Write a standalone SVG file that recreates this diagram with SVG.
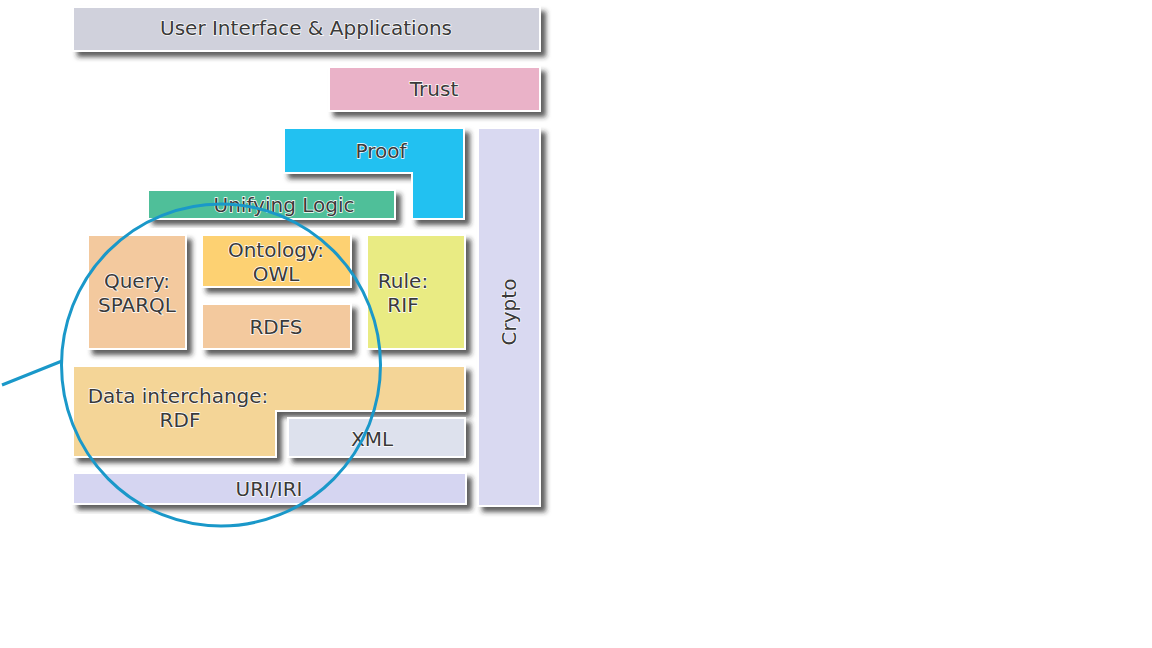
<svg xmlns="http://www.w3.org/2000/svg" width="1152" height="648" viewBox="0 0 1152 648">
<defs>
<filter id="sh" x="-10%" y="-10%" width="130%" height="140%">
<feDropShadow dx="5" dy="5" stdDeviation="2.5" flood-color="#2a2a2a" flood-opacity="0.75"/>
</filter>
</defs>
<style>
.b{stroke:#ffffff;stroke-width:2;filter:url(#sh)}
.t{font-family:"DejaVu Sans",Verdana,sans-serif;font-size:20px;fill:#3a3a3a;text-anchor:middle;dominant-baseline:central;stroke:#ffffff;stroke-width:1.3;paint-order:stroke}
.c{fill:none;stroke:#1a98c9;stroke-width:3}
</style>
<rect width="1152" height="648" fill="#ffffff"/>
<g id="ui"><rect class="b" x="73" y="7" width="467" height="44" fill="#d0d1dc"/><text class="t" x="306" y="28">User Interface &amp; Applications</text></g>
<g id="trust"><rect class="b" x="329" y="67" width="211" height="44" fill="#eab2c8"/><text class="t" x="434" y="89">Trust</text></g>
<g id="crypto"><rect class="b" x="478" y="128" width="62" height="378" fill="#d9d9f1"/><text class="t" x="509" y="312" transform="rotate(-90 509 312)">Crypto</text></g>
<g id="proof"><polygon class="b" points="284,128 464,128 464,219 412,219 412,173 284,173" fill="#22c1f1"/><text class="t" x="381" y="151">Proof</text></g>
<g id="logic"><rect class="b" x="148" y="190" width="247" height="29" fill="#4fbf99"/><text class="t" x="284" y="205">Unifying Logic</text></g>
<g id="query"><rect class="b" x="88" y="235" width="98" height="114" fill="#f3c99e"/><text class="t" x="137" y="281">Query:</text><text class="t" x="137" y="305">SPARQL</text></g>
<g id="owl"><rect class="b" x="202" y="235" width="149" height="52" fill="#fdd172"/><text class="t" x="276" y="250">Ontology:</text><text class="t" x="276" y="274">OWL</text></g>
<g id="rdfs"><rect class="b" x="202" y="304" width="149" height="45" fill="#f3c99e"/><text class="t" x="276" y="327">RDFS</text></g>
<g id="rif"><rect class="b" x="367" y="235" width="98" height="114" fill="#e9eb83"/><text class="t" x="403" y="281">Rule:</text><text class="t" x="403" y="305">RIF</text></g>
<g id="rdf"><polygon class="b" points="73,366 465,366 465,411 276,411 276,457 73,457" fill="#f4d597"/><text class="t" x="178" y="396">Data interchange:</text><text class="t" x="180" y="420">RDF</text></g>
<g id="xml"><rect class="b" x="288" y="418" width="177" height="39" fill="#dde1ed"/><text class="t" x="372" y="439">XML</text></g>
<g id="uri"><rect class="b" x="73" y="473" width="393" height="31" fill="#d5d5f1"/><text class="t" x="269" y="489">URI/IRI</text></g>
<g id="connectors">
<ellipse class="c" cx="221" cy="365" rx="159.5" ry="161"/>
<line class="c" x1="2" y1="385" x2="62" y2="361"/>
</g>
</svg>
